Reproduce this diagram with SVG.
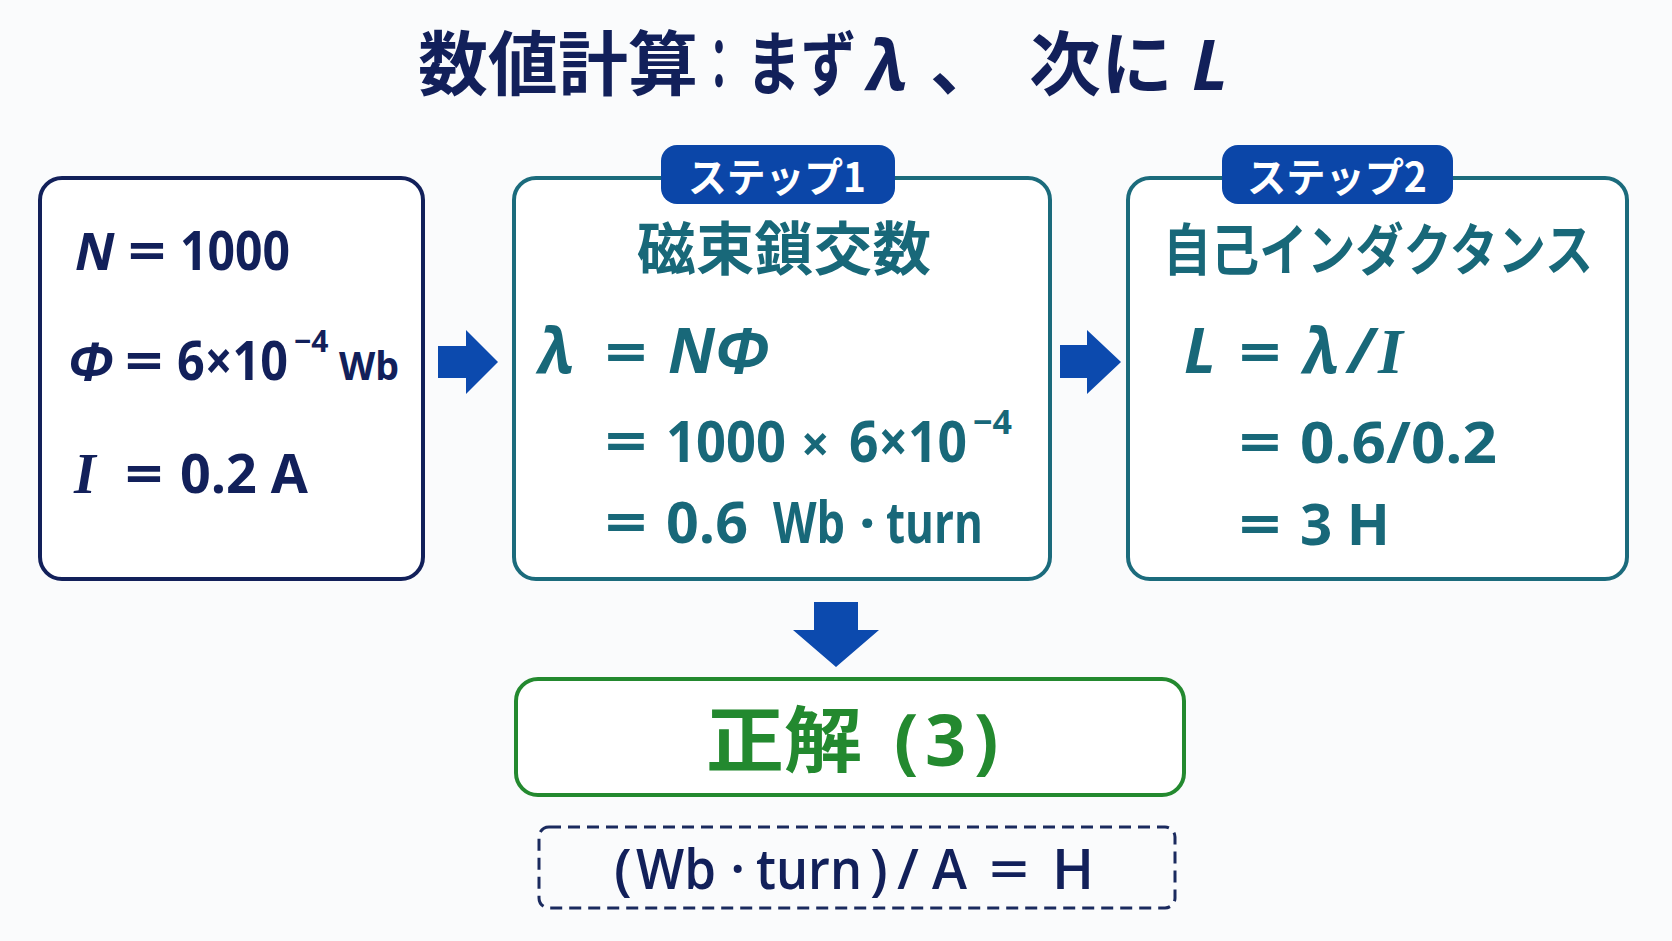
<svg xmlns="http://www.w3.org/2000/svg" width="1672" height="941" viewBox="0 0 1672 941">
<style>
.cjk{font-family:"Noto Sans CJK JP","Noto Sans",sans-serif;font-weight:700}
.lat{font-family:"Open Sans","Noto Sans",sans-serif;font-weight:700}
.it{font-family:"Noto Sans","Open Sans",sans-serif;font-weight:700;font-style:italic}
.sit{font-family:"Liberation Serif","DejaVu Serif",serif;font-weight:700;font-style:italic}
.navy{fill:#12205a}
.teal{fill:#186879}
.box1{fill:#ffffff;stroke:#12205a;stroke-width:4}
.boxs{fill:#ffffff;stroke:#1b6b7c;stroke-width:4}
.badge{fill:#0b46a8}
.arrow{fill:#0c4aae}
</style>
<rect x="0" y="0" width="1672" height="941" fill="#fafbfc"/>
<g id="title">
<text class="cjk navy" y="90" font-size="70"><tspan x="418" textLength="280" lengthAdjust="spacingAndGlyphs">数値計算</tspan><tspan x="699" textLength="40" lengthAdjust="spacingAndGlyphs">：</tspan><tspan x="746" textLength="110" lengthAdjust="spacingAndGlyphs">まず</tspan><tspan x="868" class="it">λ</tspan><tspan x="930">、</tspan><tspan x="1029" textLength="144" lengthAdjust="spacingAndGlyphs">次に</tspan><tspan x="1192" class="it">L</tspan></text>
</g>
<g id="connectors">
<polygon class="arrow" points="438,346 466,346 466,330 498,362 466,394 466,378 438,378"/>
<polygon class="arrow" points="1060,345 1087,345 1087,330 1121,362 1087,394 1087,378 1060,378"/>
<polygon class="arrow" points="814,602 858,602 858,630 879,630 836,667 793,630 814,630"/>
</g>
<g id="given">
<rect class="box1" x="40" y="178" width="383" height="401" rx="22"/>
<g class="navy">
<text class="it" x="75" y="270" font-size="52">N</text>
<text class="lat" x="128" y="270" font-size="54" textLength="38" lengthAdjust="spacingAndGlyphs">=</text>
<text class="lat" x="180" y="270" font-size="54" textLength="110" lengthAdjust="spacingAndGlyphs">1000</text>
<text class="it" x="68" y="380" font-size="52">Φ</text>
<text class="lat" x="125" y="380" font-size="54" textLength="38" lengthAdjust="spacingAndGlyphs">=</text>
<text class="lat" x="177" y="380" font-size="54" textLength="111" lengthAdjust="spacingAndGlyphs">6×10</text>
<text class="lat" x="294" y="352" font-size="30">−4</text>
<text class="lat" x="339" y="380" font-size="40" textLength="60" lengthAdjust="spacingAndGlyphs">Wb</text>
<text class="sit" x="74" y="493" font-size="56">I</text>
<text class="lat" x="125" y="493" font-size="54" textLength="38" lengthAdjust="spacingAndGlyphs">=</text>
<text class="lat" x="180" y="493" font-size="54" textLength="128" lengthAdjust="spacingAndGlyphs">0.2 A</text>
</g>
</g>
<g id="step1">
<rect class="boxs" x="514" y="178" width="536" height="401" rx="22"/>
<rect class="badge" x="661" y="145" width="234" height="59" rx="16"/>
<text class="cjk" x="777" y="192" font-size="40" fill="#ffffff" text-anchor="middle" textLength="178" lengthAdjust="spacingAndGlyphs">ステップ1</text>
<g class="teal">
<text class="cjk" x="784" y="270" font-size="58" text-anchor="middle" textLength="294" lengthAdjust="spacingAndGlyphs">磁束鎖交数</text>
<text class="it" x="539" y="373" font-size="62">λ</text>
<text class="lat" x="605" y="373" font-size="58" textLength="42" lengthAdjust="spacingAndGlyphs">=</text>
<text class="it" x="668" y="373" font-size="62">NΦ</text>
<text class="lat" x="605" y="462" font-size="58" textLength="42" lengthAdjust="spacingAndGlyphs">=</text>
<text class="lat" x="666" y="462" font-size="58" textLength="120" lengthAdjust="spacingAndGlyphs">1000</text>
<text class="lat" x="801" y="462" font-size="50">×</text>
<text class="lat" x="849" y="462" font-size="58" textLength="118" lengthAdjust="spacingAndGlyphs">6×10</text>
<text class="lat" x="973" y="434" font-size="34">−4</text>
<text class="lat" x="605" y="543" font-size="58" textLength="42" lengthAdjust="spacingAndGlyphs">=</text>
<text class="lat" x="666" y="543" font-size="58" textLength="82" lengthAdjust="spacingAndGlyphs">0.6</text>
<text class="lat" x="773" y="543" font-size="58" textLength="72" lengthAdjust="spacingAndGlyphs">Wb</text>
<text class="lat" x="859" y="543" font-size="58">·</text>
<text class="lat" x="886" y="543" font-size="58" textLength="97" lengthAdjust="spacingAndGlyphs">turn</text>
</g>
</g>
<g id="step2">
<rect class="boxs" x="1128" y="178" width="499" height="401" rx="22"/>
<rect class="badge" x="1222" y="145" width="231" height="59" rx="16"/>
<text class="cjk" x="1337" y="192" font-size="40" fill="#ffffff" text-anchor="middle" textLength="180" lengthAdjust="spacingAndGlyphs">ステップ2</text>
<g class="teal">
<text class="cjk" x="1378" y="270" font-size="56" text-anchor="middle" textLength="430" lengthAdjust="spacingAndGlyphs">自己インダクタンス</text>
<text class="it" x="1184" y="373" font-size="62">L</text>
<text class="lat" x="1239" y="373" font-size="58" textLength="42" lengthAdjust="spacingAndGlyphs">=</text>
<text class="it" x="1304" y="373" font-size="62">λ</text>
<text class="it" x="1348" y="373" font-size="62">/</text>
<text class="sit" x="1378" y="373" font-size="64">I</text>
<text class="lat" x="1239" y="463" font-size="58" textLength="42" lengthAdjust="spacingAndGlyphs">=</text>
<text class="lat" x="1300" y="463" font-size="58" textLength="197" lengthAdjust="spacingAndGlyphs">0.6/0.2</text>
<text class="lat" x="1239" y="545" font-size="58" textLength="42" lengthAdjust="spacingAndGlyphs">=</text>
<text class="lat" x="1300" y="545" font-size="58" textLength="90" lengthAdjust="spacingAndGlyphs">3 H</text>
</g>
</g>
<g id="answer">
<rect x="516" y="679" width="668" height="116" rx="22" fill="#ffffff" stroke="#23892f" stroke-width="4"/>
<text class="cjk" y="766" font-size="72" fill="#23892f"><tspan x="706" textLength="156" lengthAdjust="spacingAndGlyphs">正解</tspan><tspan x="894" class="lat">(</tspan><tspan x="925" class="lat">3</tspan><tspan x="974" class="lat">)</tspan></text>
</g>
<g id="units">
<rect x="539" y="827" width="636" height="81" rx="10" fill="none" stroke="#1a2a5e" stroke-width="3" stroke-dasharray="12 7"/>
<text class="navy" y="889" font-size="56" font-family="Open Sans, Noto Sans, sans-serif" font-weight="600"><tspan x="614">(</tspan><tspan x="636" textLength="80" lengthAdjust="spacingAndGlyphs">Wb</tspan><tspan x="730">·</tspan><tspan x="756" textLength="106" lengthAdjust="spacingAndGlyphs">turn</tspan><tspan x="870">)</tspan><tspan x="897">/</tspan><tspan x="932" textLength="35" lengthAdjust="spacingAndGlyphs">A</tspan><tspan x="989" textLength="40" lengthAdjust="spacingAndGlyphs">=</tspan><tspan x="1052">H</tspan></text>
</g>
</svg>
